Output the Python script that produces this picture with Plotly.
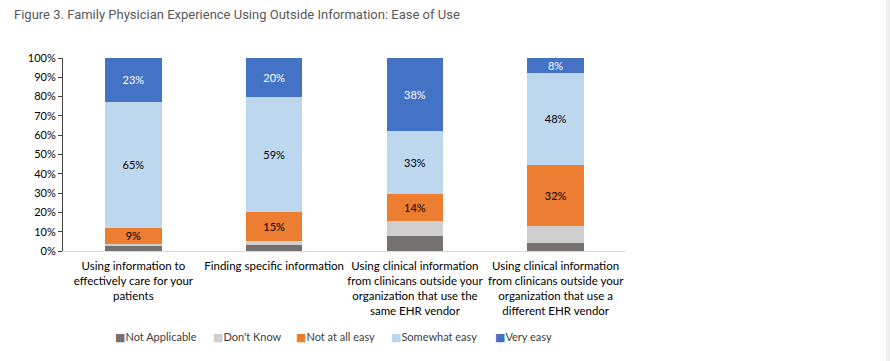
import plotly.graph_objects as go

categories = [
    "Using information to<br>effectively care for your<br>patients",
    "Finding specific information",
    "Using clinical information<br>from clinicans outside your<br>organization that use the<br>same EHR vendor",
    "Using clinical information<br>from clinicans outside your<br>organization that use a<br>different EHR vendor",
]
not_applicable = [2.4, 3.1, 7.7, 4.1]
dont_know = [1.1, 2.2, 8.1, 8.9]
not_at_all_easy = [8.6, 15.1, 13.8, 31.6]
somewhat_easy = [65.3, 59.4, 32.8, 47.6]
very_easy = [22.6, 20.2, 37.6, 7.8]

series = [
    ("Not Applicable", not_applicable, "#767171", False, "black"),
    ("Don't Know", dont_know, "#d0cece", False, "black"),
    ("Not at all easy", not_at_all_easy, "#ed7d31", True, "black"),
    ("Somewhat easy", somewhat_easy, "#bdd7ee", True, "black"),
    ("Very easy", very_easy, "#4472c4", True, "white"),
]
legend_x = [0.0888, 0.263, 0.410, 0.579, 0.764]

FONT = "Lato, 'Liberation Sans', sans-serif"

fig = go.Figure()
for name, vals, color, show_label, tcolor in series:
    fig.add_trace(go.Bar(
        name=name, x=categories, y=vals,
        marker=dict(color=color, line=dict(width=0)),
        texttemplate="%{y:.0f}%" if show_label else "",
        textposition="inside", insidetextanchor="middle",
        textangle=0,
        textfont=dict(color=tcolor, size=11, family=FONT),
        showlegend=False,
    ))

annotations = []
for (name, vals, color, _, _), lx in zip(series, legend_x):
    annotations.append(dict(
        xref="paper", yref="paper", x=lx, y=-0.446,
        xanchor="left", yanchor="middle", showarrow=False,
        text=f"<span style='color:{color};font-family:DejaVu Sans'>■</span>{name}",
        font=dict(family=FONT, size=11, color="#404040"),
    ))

fig.update_layout(
    barmode="stack",
    bargap=0.6,
    width=890, height=361,
    margin=dict(l=63, r=264, t=58, b=110),
    paper_bgcolor="white", plot_bgcolor="white",
    uniformtext=dict(minsize=11, mode="show"),
    title=dict(
        text="Figure 3. Family Physician Experience Using Outside Information: Ease of Use",
        x=14 / 890, xanchor="left", y=1 - 14.5 / 361, yanchor="middle",
        font=dict(family="Roboto, 'Noto Sans', sans-serif", size=13, color="#595959"),
    ),
    font=dict(family=FONT, size=11, color="#404040"),
    showlegend=False,
    annotations=annotations,
    yaxis=dict(
        range=[0, 100], tickvals=list(range(0, 101, 10)),
        ticktext=[f"{v}%" for v in range(0, 101, 10)],
        showgrid=False, zeroline=False,
        showline=True, linecolor="#404040", linewidth=1,
        ticks="outside", ticklen=4, tickcolor="#404040",
        tickfont=dict(family=FONT, size=11, color="#000000"),
    ),
    xaxis=dict(
        showline=True, linecolor="#d9d9d9", linewidth=1,
        tickfont=dict(family=FONT, size=11.5, color="#000000"),
        ticks="", ticklabelstandoff=4,
    ),
    shapes=[dict(type="rect", xref="paper", yref="paper",
                 x0=(886 - 63) / 563, x1=(890 - 63) / 563,
                 y0=-110 / 193, y1=(193 + 58) / 193,
                 fillcolor="#eeeeee", line=dict(width=0), layer="below")],
)

fig.write_html("out.html", config={"displayModeBar": False},
               post_script="document.body.style.margin='0px';")
